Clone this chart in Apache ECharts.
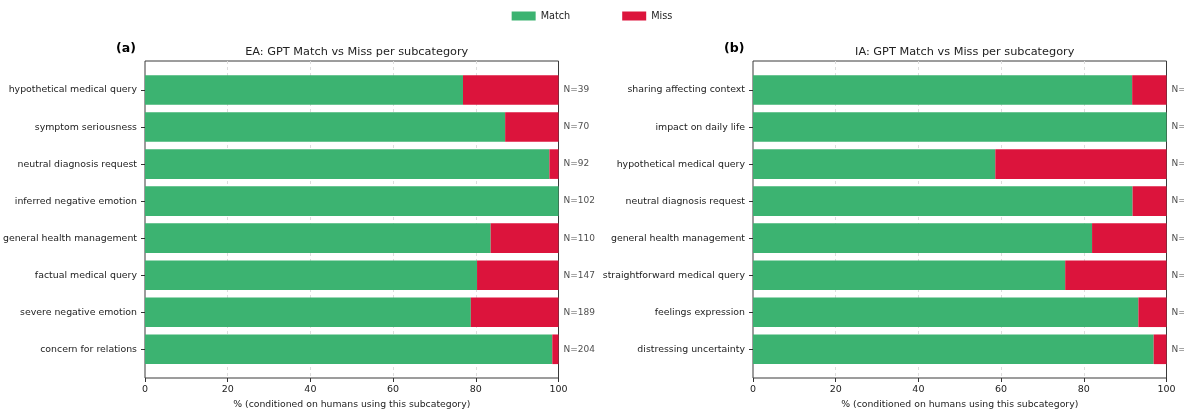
<!DOCTYPE html>
<html><head><meta charset="utf-8">
<script src="https://cdn.jsdelivr.net/npm/echarts@6/dist/echarts.min.js"></script>
<style>html,body{margin:0;padding:0;background:#fff}#c{width:1184px;height:411px}</style>
</head><body><div id="c"></div>
<script>
const eaCategories = ["hypothetical medical query","symptom seriousness","neutral diagnosis request","inferred negative emotion","general health management","factual medical query","severe negative emotion","concern for relations"];
const eaMatch = [76.9, 87.1, 97.8, 100, 83.6, 80.3, 78.8, 98.5];
const eaN = [39, 70, 92, 102, 110, 147, 189, 204];
const iaCategories = ["sharing affecting context","impact on daily life","hypothetical medical query","neutral diagnosis request","general health management","straightforward medical query","feelings expression","distressing uncertainty"];
const iaMatch = [91.7, 100, 58.6, 91.8, 82.0, 75.5, 93.2, 96.9];
const iaN = ["", "", "", "", "", "", "", ""];
const xTicks = [0, 20, 40, 60, 80, 100];

const FONT = "DejaVu Sans";
const GREEN = "#3cb371", RED = "#dc143c";
const panels = [
  {left:145, width:413.5, cats:eaCategories, match:eaMatch, n:eaN, title:"EA: GPT Match vs Miss per subcategory", tag:"(a)", tagX:111},
  {left:753, width:413.5, cats:iaCategories, match:iaMatch, n:iaN, title:"IA: GPT Match vs Miss per subcategory", tag:"(b)", tagX:719}
];
const FRAME_TOP = 61, FRAME_H = 317, BAR_TOP = 71.5, BAR_H = 296.3;
const grid = [], xAxis = [], yAxis = [], series = [], title = [];
panels.forEach((p, k) => {
  const gf = grid.length;
  grid.push({left:p.left, top:FRAME_TOP, width:p.width, height:FRAME_H, show:true, borderColor:"#3a3a3a", borderWidth:1, containLabel:false, outerBoundsMode:"none"});
  grid.push({left:p.left, top:BAR_TOP, width:p.width, height:BAR_H, containLabel:false, outerBoundsMode:"none"});
  xAxis.push({gridIndex:gf, type:"value", min:0, max:100, interval:20,
    axisLine:{show:false}, axisTick:{show:true, length:4, lineStyle:{color:"#333"}},
    axisLabel:{fontFamily:FONT, fontSize:9.5, color:"#222", margin:7},
    splitLine:{show:true, showMinLine:false, showMaxLine:false, lineStyle:{type:[3,3], color:"#ddd"}},
    name:"% (conditioned on humans using this subcategory)", nameLocation:"middle", nameGap:21,
    nameTextStyle:{fontFamily:FONT, fontSize:9.3, color:"#222"}});
  xAxis.push({gridIndex:gf+1, type:"value", min:0, max:100, show:false});
  yAxis.push({gridIndex:gf, type:"value", show:false, min:0, max:1});
  yAxis.push({gridIndex:gf+1, type:"category", data:p.cats, inverse:true,
    axisLine:{show:false}, axisTick:{show:true, alignWithLabel:true, length:4, lineStyle:{color:"#333"}},
    axisLabel:{fontFamily:FONT, fontSize:9.4, color:"#222", margin:8},
    splitLine:{show:false}});
  const yi = gf + 1;
  series.push({type:"bar", name:"Match", xAxisIndex:yi, yAxisIndex:yi, stack:"s"+k, barWidth:"80%",
    itemStyle:{color:GREEN}, data:p.match});
  series.push({type:"bar", name:"Miss", xAxisIndex:yi, yAxisIndex:yi, stack:"s"+k, barWidth:"80%",
    itemStyle:{color:RED}, data:p.match.map(v => +(100 - v).toFixed(1))});
  series.push({type:"scatter", xAxisIndex:yi, yAxisIndex:yi, symbolSize:0, silent:true,
    data:p.cats.map((c,i) => [100, c]),
    label:{show:true, position:"right", distance:5, fontFamily:FONT, fontSize:9, color:"#222",
      formatter: q => "N=" + p.n[q.dataIndex]}});
  title.push({text:p.title, left:p.left + p.width/2, top:42, textAlign:"center",
    textStyle:{fontFamily:FONT, fontSize:11.3, fontWeight:"normal", color:"#222"}});
  title.push({text:p.tag, left:p.tagX, top:37, textStyle:{fontFamily:FONT, fontSize:12.5, fontWeight:"bold", color:"#000"}});
});
const chart = echarts.init(document.getElementById("c"), null, {renderer:"canvas"});
chart.setOption({
  animation:false,
  title,
  legend:{data:["Match","Miss"], top:6, left:"center", itemWidth:24, itemHeight:9, itemGap:52,
    icon:"rect", textStyle:{fontFamily:FONT, fontSize:9.7, color:"#222"}},
  grid, xAxis, yAxis, series
});
</script></body></html>
